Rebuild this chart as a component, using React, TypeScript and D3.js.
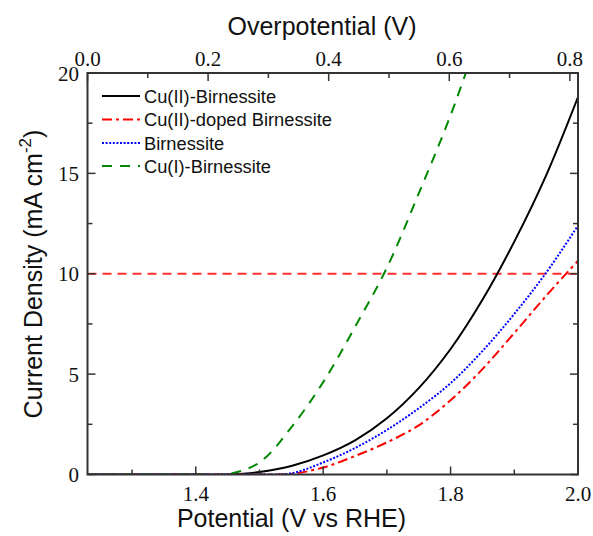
import React from "react";
import * as d3 from "d3";

const potential = [1.23, 1.3, 1.35, 1.4, 1.45, 1.5, 1.55, 1.6, 1.65, 1.7, 1.75, 1.8, 1.85, 1.9, 1.95, 2.0];
const cu2Birnessite = [0, 0, 0, 0, 0, 0.12, 0.42, 0.95, 1.7, 2.8, 4.3, 6.25, 8.7, 11.6, 14.9, 18.8];
const cu2DopedBirnessite = [0, 0, 0, 0, 0, 0, 0.03, 0.35, 0.92, 1.6, 2.45, 3.7, 5.25, 7.05, 8.9, 10.65];
const birnessite = [0, 0, 0, 0, 0, 0, 0.06, 0.6, 1.32, 2.22, 3.3, 4.55, 6.15, 8.0, 10.05, 12.4];
const cu1Birnessite = [0, 0, 0, 0, 0.02, 0.6, 2.35, 4.6, 7.35, 10.3, 14.0, 17.9, 22.4, null, null, null];

const seriesNames = ["Cu(II)-Birnessite", "Cu(II)-doped Birnessite", "Birnessite", "Cu(I)-Birnessite"];
const seriesColors = ["#000000", "#ff0000", "#0000ff", "#008800"];
const seriesDash = ["", "10,4,3,4", "2,1.6", "10,8"];

const xMajor = [1.4, 1.6, 1.8, 2.0];
const xMinor = [1.3, 1.5, 1.7, 1.9];
const topMajor = [0.0, 0.2, 0.4, 0.6, 0.8];
const topMinor = [0.1, 0.3, 0.5, 0.7];
const yMajor = [0, 5, 10, 15, 20];
const yMinor = [2.5, 7.5, 12.5, 17.5];
const refLevel = 10;

const L = 87.5, R = 578, T = 73, B = 474.5;
const W = 593, H = 536;

export default function App() {
  const x = d3.scaleLinear().domain([1.23, 2.0]).range([L, R]);
  const xTop = d3.scaleLinear().domain([0, 0.8135]).range([L, R]);
  const y = d3.scaleLinear().domain([0, 20]).range([B, T]);
  const all = [cu2Birnessite, cu2DopedBirnessite, birnessite, cu1Birnessite];
  const line = d3
    .line<[number, number | null]>()
    .defined((d) => d[1] !== null)
    .x((d) => x(d[0]))
    .y((d) => y(d[1] as number))
    .curve(d3.curveCatmullRom.alpha(0.5));
  const axisColor = "#333";
  const serif = { fontFamily: '"Liberation Serif", "DejaVu Serif", serif' };
  const sans = { fontFamily: '"Liberation Sans", Arial, sans-serif' };
  const legendY = [96, 119.5, 143, 166];
  const tickFs = 21;
  return (
    <svg width={W} height={H} style={{ position: "absolute", left: 0, top: 0, background: "#fff" }}>
      <defs>
        <clipPath id="plot">
          <rect x={L} y={T} width={R - L} height={B - T} />
        </clipPath>
      </defs>
      <rect x={0} y={0} width={W} height={H} fill="#fff" />
      <g clipPath="url(#plot)">
        <line x1={L} x2={R} y1={y(refLevel)} y2={y(refLevel)} stroke="#ff3030" strokeWidth={1.8} strokeDasharray="9,6" />
        {all.map((vals, i) => (
          <path
            key={i}
            d={line(potential.map((p, k) => [p, vals[k]] as [number, number | null])) || ""}
            fill="none"
            stroke={seriesColors[i]}
            strokeWidth={2}
            strokeDasharray={seriesDash[i] || undefined}
          />
        ))}
      </g>
      <rect x={L} y={T} width={R - L} height={B - T} fill="none" stroke={axisColor} strokeWidth={2} />
      {xMajor.map((v) => (
        <g key={"bx" + v}>
          <line x1={x(v)} x2={x(v)} y1={B} y2={B - 8} stroke={axisColor} strokeWidth={1.5} />
          <text x={x(v)} y={501} textAnchor="middle" style={serif} fontSize={tickFs} fill="#111">
            {v.toFixed(1)}
          </text>
        </g>
      ))}
      {xMinor.map((v) => (
        <line key={"bm" + v} x1={x(v)} x2={x(v)} y1={B} y2={B - 5} stroke={axisColor} strokeWidth={1.5} />
      ))}
      {topMajor.map((v) => (
        <g key={"tx" + v}>
          <line x1={xTop(v)} x2={xTop(v)} y1={T} y2={T + 8} stroke={axisColor} strokeWidth={1.5} />
          <text x={xTop(v)} y={65.5} textAnchor="middle" style={serif} fontSize={tickFs} fill="#111">
            {v.toFixed(1)}
          </text>
        </g>
      ))}
      {topMinor.map((v) => (
        <line key={"tm" + v} x1={xTop(v)} x2={xTop(v)} y1={T} y2={T + 5} stroke={axisColor} strokeWidth={1.5} />
      ))}
      {yMajor.map((v) => (
        <g key={"ly" + v}>
          <line x1={L} x2={L + 8} y1={y(v)} y2={y(v)} stroke={axisColor} strokeWidth={1.5} />
          <line x1={R} x2={R - 8} y1={y(v)} y2={y(v)} stroke={axisColor} strokeWidth={1.5} />
          <text x={79} y={y(v) + 7.5} textAnchor="end" style={serif} fontSize={tickFs} fill="#111">
            {v}
          </text>
        </g>
      ))}
      {yMinor.map((v) => (
        <g key={"lm" + v}>
          <line x1={L} x2={L + 5} y1={y(v)} y2={y(v)} stroke={axisColor} strokeWidth={1.5} />
          <line x1={R} x2={R - 5} y1={y(v)} y2={y(v)} stroke={axisColor} strokeWidth={1.5} />
        </g>
      ))}
      <text x={322} y={35} textAnchor="middle" style={sans} fontSize={25} fill="#111">
        Overpotential (V)
      </text>
      <text x={291.5} y={527} textAnchor="middle" style={sans} fontSize={25} fill="#111">
        Potential (V vs RHE)
      </text>
      <text transform="translate(42,274) rotate(-90)" textAnchor="middle" style={sans} fontSize={25} fill="#111">
        Current Density (mA cm
        <tspan fontSize={17} dy={-11}>-2</tspan>
        <tspan dy={11}>)</tspan>
      </text>
      {seriesNames.map((name, i) => (
        <g key={name}>
          <line
            x1={102}
            x2={140}
            y1={legendY[i]}
            y2={legendY[i]}
            stroke={seriesColors[i]}
            strokeWidth={2}
            strokeDasharray={seriesDash[i] || undefined}
          />
          <text x={144} y={legendY[i] + 6.5} style={sans} fontSize={18.3} fill="#111">
            {name}
          </text>
        </g>
      ))}
    </svg>
  );
}
